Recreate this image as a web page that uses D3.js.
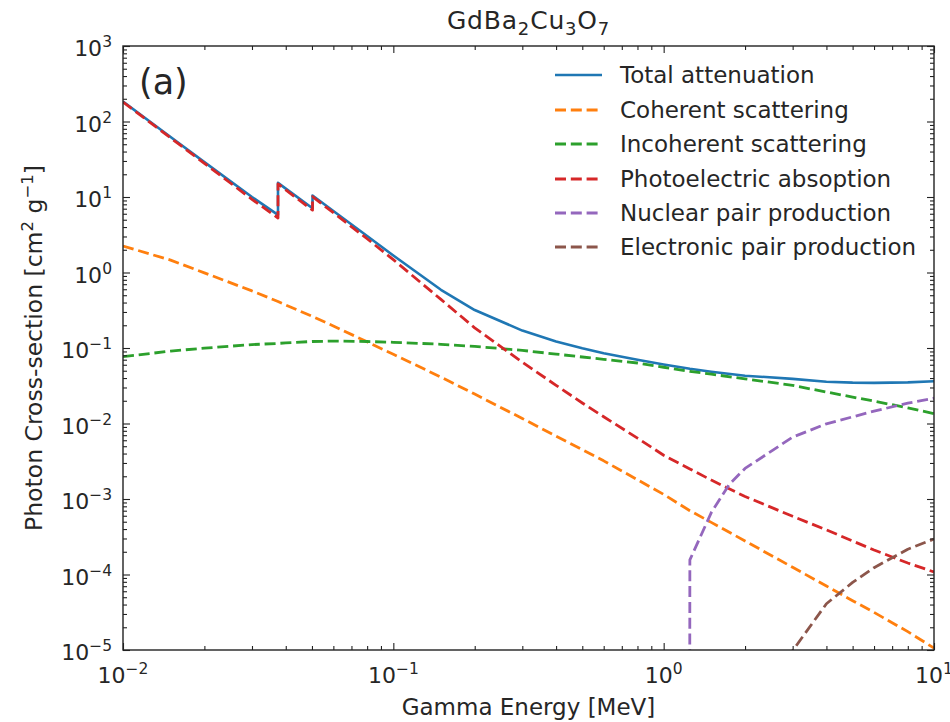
<!DOCTYPE html>
<html><head><meta charset="utf-8">
<script src="https://cdn.jsdelivr.net/npm/d3@7"></script>
<style>
body{margin:0;background:#fff}
text{font-family:"DejaVu Sans",sans-serif;fill:#262626}
</style>
</head><body>
<svg id="c" width="950" height="722"></svg>
<script>
// ---------- data (MeV, cm^2/g) ----------
const energyGrid = [0.01, 0.015, 0.02, 0.03, 0.03744, 0.03744, 0.04, 0.05024, 0.05024, 0.06, 0.08, 0.1,
  0.15, 0.2, 0.3, 0.4, 0.5, 0.6, 0.8, 1, 1.25, 1.5, 2, 3, 4, 5, 6, 8, 10];
const totalAttenuation = [184, 62.2, 29.0, 10.0, 5.8, 15.4, 12.9, 7.08, 10.48, 6.51, 3.04, 1.68,
  0.59, 0.318, 0.17, 0.122, 0.099, 0.085, 0.070, 0.0605, 0.053, 0.0485, 0.0430, 0.0390, 0.0358, 0.0348, 0.0345, 0.0350, 0.0362];
const coherentScattering = [2.24, 1.46, 0.99, 0.57, 0.413, 0.413, 0.371, 0.262, 0.262, 0.196, 0.1206, 0.0825,
  0.0412, 0.0245, 0.01165, 0.0068, 0.0045, 0.0032, 0.0018, 0.00115, 0.0007, 0.00049, 0.000278, 0.0001245, 0.0000704, 0.000045, 0.0000315, 0.0000175, 0.0000106];
const incoherentScattering = [0.0767, 0.091, 0.0996, 0.111, 0.115, 0.115, 0.117, 0.122, 0.122, 0.1235, 0.122, 0.119,
  0.112, 0.105, 0.093, 0.083, 0.076, 0.0708, 0.0633, 0.0556, 0.0491, 0.045, 0.039, 0.032, 0.0261, 0.0224, 0.0198, 0.0161, 0.0135];
const photoelectric = [181, 60.6, 27.9, 9.33, 5.27, 14.9, 12.4, 6.7, 10.1, 6.19, 2.80, 1.48,
  0.44, 0.185, 0.065, 0.032, 0.0187, 0.0123, 0.0064, 0.0038, 0.0025, 0.00178, 0.00108, 0.00059, 0.00039, 0.000278, 0.000211, 0.000142, 0.000108];
const nuclearPairE = [1.022, 1.25, 1.5, 1.75, 2, 3, 4, 5, 6, 8, 10];
const nuclearPair  = [0, 1.56e-4, 6.6e-4, 1.57e-3, 2.54e-3, 6.6e-3, 9.9e-3, 0.01225, 0.01457, 0.0186, 0.0216];
const electronicPairE = [2.044, 3, 4, 5, 6, 8, 10];
const electronicPair  = [0, 9.8e-6, 4.1e-5, 7.85e-5, 1.23e-4, 2.16e-4, 2.95e-4];

const seriesNames = ["Total attenuation", "Coherent scattering", "Incoherent scattering",
  "Photoelectric absoption", "Nuclear pair production", "Electronic pair production"];
const seriesColors = ["#1f77b4", "#ff7f0e", "#2ca02c", "#d62728", "#9467bd", "#8c564b"];

const xMajorTicks = [0.01, 0.1, 1, 10];
const xTickExponents = ["\u22122", "\u22121", "0", "1"];
const yMajorTicks = [1e-5, 1e-4, 1e-3, 1e-2, 1e-1, 1, 10, 100, 1000];
const yTickExponents = ["\u22125", "\u22124", "\u22123", "\u22122", "\u22121", "0", "1", "2", "3"];

// ---------- layout ----------
const svg = d3.select("#c");
const L = 123, R = 934, T = 46, B = 650;
const x = d3.scaleLog().domain([0.01, 10]).range([L, R]);
const y = d3.scaleLog().domain([1e-5, 1e3]).range([B, T]);

const xMinor = x.ticks().filter(v => !xMajorTicks.some(t => Math.abs(t - v) / t < 1e-6));
const yMinor = y.ticks().filter(v => !yMajorTicks.some(t => Math.abs(t - v) / t < 1e-6));

svg.append("defs").append("clipPath").attr("id", "clip")
  .append("rect").attr("x", L).attr("y", T).attr("width", R - L).attr("height", B - T);

// ---------- series ----------
const DASH = "11,4.8";
const series = [
  {E: energyGrid, V: totalAttenuation, dash: null},
  {E: energyGrid, V: coherentScattering, dash: DASH},
  {E: energyGrid, V: incoherentScattering, dash: DASH},
  {E: energyGrid, V: photoelectric, dash: DASH},
  {E: nuclearPairE, V: nuclearPair, dash: DASH},
  {E: electronicPairE, V: electronicPair, dash: DASH}
];
const line = d3.line().x(d => x(d[0])).y(d => y(Math.max(d[1], 1e-300)));
const plot = svg.append("g").attr("clip-path", "url(#clip)");
series.forEach((s, i) => {
  plot.append("path").datum(d3.zip(s.E, s.V))
    .attr("d", line).attr("fill", "none")
    .attr("stroke", seriesColors[i])
    .attr("stroke-width", s.dash ? 2.8 : 2.6)
    .attr("stroke-linejoin", "round")
    .attr("stroke-dasharray", s.dash);
});

// ---------- axes (inward ticks on all four sides) ----------
function styleAxis(g) {
  g.select(".domain").remove();
  g.selectAll(".tick line").attr("stroke", "#222").attr("stroke-width", 1.1);
}
const axes = [
  [d3.axisBottom(x), `translate(0,${B})`, xMajorTicks, xMinor],
  [d3.axisTop(x), `translate(0,${T})`, xMajorTicks, xMinor],
  [d3.axisLeft(y), `translate(${L},0)`, yMajorTicks, yMinor],
  [d3.axisRight(y), `translate(${R},0)`, yMajorTicks, yMinor]
];
axes.forEach(([ax, tr, maj, min]) => {
  svg.append("g").attr("transform", tr)
    .call(ax.tickValues(maj).tickSizeInner(-7).tickSizeOuter(0).tickFormat(""))
    .call(styleAxis);
  svg.append("g").attr("transform", tr)
    .call(ax.tickValues(min).tickSizeInner(-4).tickSizeOuter(0).tickFormat(""))
    .call(styleAxis);
});
svg.append("rect").attr("x", L).attr("y", T).attr("width", R - L).attr("height", B - T)
  .attr("fill", "none").attr("stroke", "#222").attr("stroke-width", 1.4);

// tick labels
xMajorTicks.forEach((v, i) => {
  const t = svg.append("text").attr("x", x(v)).attr("y", 683).attr("text-anchor", "middle")
    .attr("font-size", 22);
  t.append("tspan").text("10");
  t.append("tspan").attr("dy", -9).attr("font-size", 15.5).text(xTickExponents[i]);
});
yMajorTicks.forEach((v, i) => {
  const t = svg.append("text").attr("x", 112).attr("y", y(v) + 10).attr("text-anchor", "end")
    .attr("font-size", 22);
  t.append("tspan").text("10");
  t.append("tspan").attr("dy", -9).attr("font-size", 15.5).text(yTickExponents[i]);
});

// axis labels
svg.append("text").attr("x", (L + R) / 2).attr("y", 715).attr("text-anchor", "middle")
  .attr("font-size", 23).text("Gamma Energy [MeV]");
const yl = svg.append("text").attr("transform", "translate(42,348) rotate(-90)")
  .attr("text-anchor", "middle").attr("font-size", 23.5);
yl.append("tspan").text("Photon Cross-section [cm");
yl.append("tspan").attr("dy", -9).attr("font-size", 16.5).text("2");
yl.append("tspan").attr("dy", 9).text(" g");
yl.append("tspan").attr("dy", -9).attr("font-size", 16.5).text("\u22121");
yl.append("tspan").attr("dy", 9).text("]");

// title
const tt = svg.append("text").attr("x", (L + R) / 2).attr("y", 29).attr("text-anchor", "middle")
  .attr("font-size", 25).attr("letter-spacing", 0.8);
[["GdBa", 0], ["2", 1], ["Cu", 0], ["3", 1], ["O", 0], ["7", 1]].forEach(([s, sub], i, arr) => {
  const prevSub = i > 0 ? arr[i - 1][1] : 0;
  const sp = tt.append("tspan").text(s);
  if (sub && !prevSub) sp.attr("dy", 6).attr("font-size", 18);
  else if (!sub && prevSub) sp.attr("dy", -6);
});

// panel label
svg.append("text").attr("x", 139).attr("y", 94).attr("font-size", 35).text("(a)");

// legend
const legendRowY = [75, 110, 144, 179, 213, 247];
seriesNames.forEach((name, i) => {
  const ly = legendRowY[i];
  svg.append("line").attr("x1", 555).attr("x2", 602).attr("y1", ly).attr("y2", ly)
    .attr("stroke", seriesColors[i]).attr("stroke-width", i ? 2.8 : 2.6)
    .attr("stroke-dasharray", series[i].dash);
  svg.append("text").attr("x", 620).attr("y", ly + 8).attr("font-size", 23).text(name);
});
</script>
</body></html>
